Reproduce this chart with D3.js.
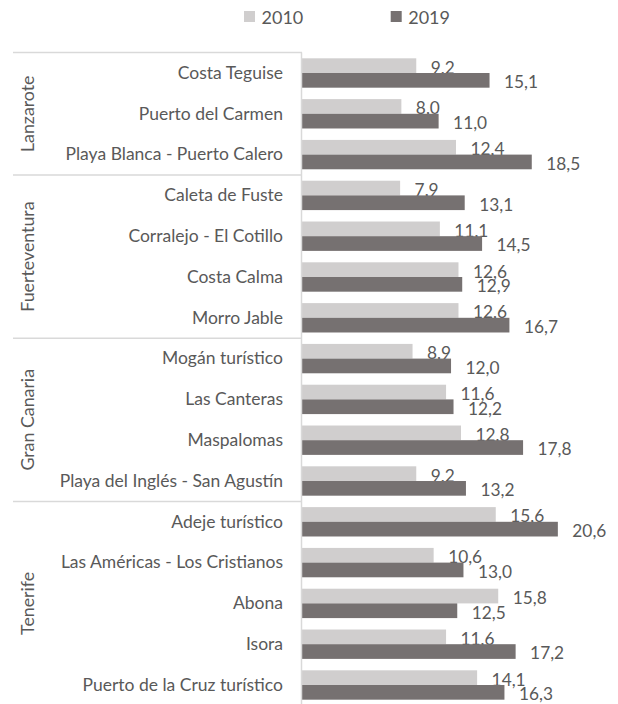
<!DOCTYPE html>
<html>
<head>
<meta charset="utf-8">
<script src="https://cdn.jsdelivr.net/npm/d3@7"></script>
<style>
  html, body { margin: 0; padding: 0; background: #fff; }
  svg { display: block; }
  text { font-family: Lato, "Open Sans", sans-serif; fill: #595959; }
</style>
</head>
<body>
<svg id="chart" width="618" height="704"></svg>
<script>
// ---- data ----
const categories = [
  "Costa Teguise", "Puerto del Carmen", "Playa Blanca - Puerto Calero",
  "Caleta de Fuste", "Corralejo - El Cotillo", "Costa Calma", "Morro Jable",
  "Mogán turístico", "Las Canteras", "Maspalomas", "Playa del Inglés - San Agustín",
  "Adeje turístico", "Las Américas - Los Cristianos", "Abona", "Isora", "Puerto de la Cruz turístico"
];
const groups = ["Lanzarote", "Fuerteventura", "Gran Canaria", "Tenerife"];
const groupSizes = [3, 4, 4, 5];
const seriesNames = ["2010", "2019"];
const values2010 = [9.2, 8.0, 12.4, 7.9, 11.1, 12.6, 12.6, 8.9, 11.6, 12.8, 9.2, 15.6, 10.6, 15.8, 11.6, 14.1];
const values2019 = [15.1, 11.0, 18.5, 13.1, 14.5, 12.9, 16.7, 12.0, 12.2, 17.8, 13.2, 20.6, 13.0, 12.5, 17.2, 16.3];
const colors = ["#d0cece", "#767171"];

// ---- layout ----
const svg = d3.select("#chart");
const axisX = 302;
const plotTop = 52.6, rowPitch = 40.8;
const plotBottom = plotTop + rowPitch * categories.length;

const x = d3.scaleLinear().domain([0, 25]).range([axisX, axisX + 25 * 12.42]);
const y = d3.scaleBand().domain(categories).range([plotTop, plotBottom])
  .paddingInner(0.28).paddingOuter(0.14);
const ySub = d3.scaleBand().domain(seriesNames).range([0, y.bandwidth()]);

const series = [values2010, values2019];
const fmt = v => d3.format(".1f")(v).replace(".", ",");

// bars
series.forEach((vals, si) => {
  const g = svg.append("g");
  g.selectAll("rect").data(vals).join("rect")
    .attr("x", x(0))
    .attr("y", (d, i) => y(categories[i]) + ySub(seriesNames[si]))
    .attr("width", d => x(d) - x(0))
    .attr("height", ySub.bandwidth())
    .attr("fill", colors[si]);
  g.selectAll("text").data(vals).join("text")
    .attr("x", d => x(d) + 14.5)
    .attr("y", (d, i) => y(categories[i]) + ySub(seriesNames[si]) + ySub.bandwidth() + 0.5)
    .attr("font-size", 17.3)
    .text(d => fmt(d));
});

// vertical axis line
svg.append("line")
  .attr("x1", axisX - 0.5).attr("x2", axisX - 0.5)
  .attr("y1", plotTop).attr("y2", plotBottom)
  .attr("stroke", "#d9d9d9").attr("stroke-width", 1.5);

// category labels
svg.append("g").selectAll("text").data(categories).join("text")
  .attr("x", 283)
  .attr("y", d => y(d) + y.bandwidth() / 2 + 5.8)
  .attr("text-anchor", "end")
  .attr("font-size", 17.5)
  .text(d => d);

// group separators & labels
let acc = 0;
const bounds = [0];
groupSizes.forEach(n => { acc += n; bounds.push(acc); });
svg.append("g").selectAll("line").data(bounds).join("line")
  .attr("x1", 13).attr("x2", axisX)
  .attr("y1", d => plotTop + d * rowPitch).attr("y2", d => plotTop + d * rowPitch)
  .attr("stroke", "#d9d9d9").attr("stroke-width", 1.5);

svg.append("g").selectAll("text").data(groups).join("text")
  .attr("transform", (d, i) => {
    const cy = plotTop + (bounds[i] + bounds[i + 1]) / 2 * rowPitch;
    return `translate(33.5,${cy}) rotate(-90)`;
  })
  .attr("text-anchor", "middle")
  .attr("font-size", 17.8)
  .text(d => d);

// legend
const legX = [244, 390.7];
seriesNames.forEach((s, i) => {
  svg.append("rect").attr("x", legX[i]).attr("y", 11).attr("width", 11).attr("height", 11)
    .attr("fill", colors[i]);
  svg.append("text").attr("x", legX[i] + 17.5).attr("y", 24)
    .attr("font-size", 18).text(s);
});
</script>
</body>
</html>
